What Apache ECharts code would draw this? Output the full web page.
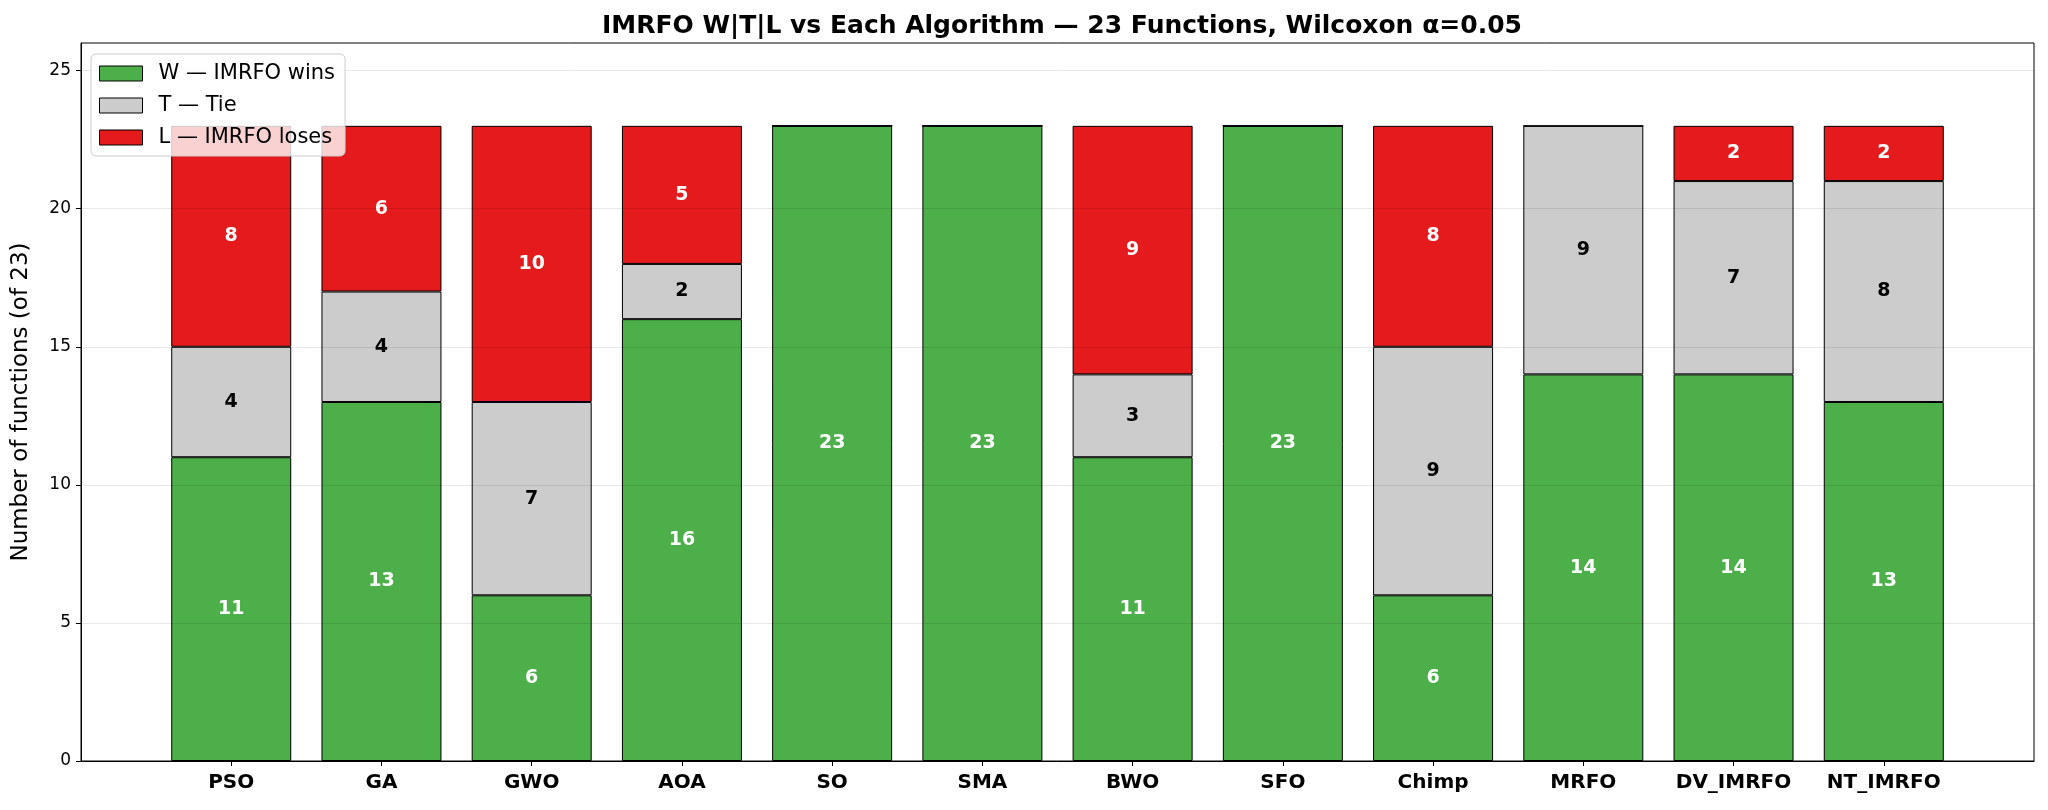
<!DOCTYPE html>
<html>
<head>
    <meta charset="utf-8">
    <title>IMRFO W|T|L</title>
    <script src="https://cdn.jsdelivr.net/npm/echarts@6/dist/echarts.min.js"></script>
    <style>
        html, body { margin: 0; padding: 0; background: #fff; }
    </style>
</head>
<body>
    <div id="main" style="width: 2048px;height:810px;"></div>
    <script type="text/javascript">
        // data
        var categories = ['PSO', 'GA', 'GWO', 'AOA', 'SO', 'SMA', 'BWO', 'SFO', 'Chimp', 'MRFO', 'DV_IMRFO', 'NT_IMRFO'];
        var wins   = [11, 13, 6, 16, 23, 23, 11, 23, 6, 14, 14, 13];
        var ties   = [4, 4, 7, 2, 0, 0, 3, 0, 9, 9, 7, 8];
        var losses = [8, 6, 10, 5, 0, 0, 9, 0, 8, 0, 2, 2];
        var yTicks = [0, 5, 10, 15, 20, 25];

        // pad one empty slot each side, like matplotlib's margins
        function pad(arr, v) { return [v].concat(arr, [v]); }
        var xCats = pad(categories, '');
        var last = xCats.length - 1;

        var font = 'DejaVu Sans';
        var myChart = echarts.init(document.getElementById('main'));

        function seg(name, values, color, textColor) {
            return {
                name: name,
                type: 'bar',
                stack: 'wtl',
                barWidth: 120,
                data: pad(values, '-'),
                itemStyle: { color: color, borderColor: '#000', borderWidth: 1 },
                label: {
                    show: true,
                    position: 'inside',
                    color: textColor,
                    fontFamily: font,
                    fontWeight: 'bold',
                    fontSize: 19,
                    formatter: function (p) { return p.value > 0 ? p.value : ''; }
                }
            };
        }

        var option = {
            animation: false,
            backgroundColor: '#fff',
            title: {
                text: 'IMRFO W|T|L vs Each Algorithm \u2014 23 Functions, Wilcoxon \u03b1=0.05',
                left: 1057,
                textAlign: 'center',
                top: 9,
                textStyle: { fontFamily: font, fontWeight: 'bold', fontSize: 25, color: '#000' }
            },
            legend: {
                orient: 'vertical',
                left: 91,
                top: 54,
                padding: [9, 10, 8, 8],
                itemGap: 11,
                itemWidth: 43,
                itemHeight: 15,
                backgroundColor: 'rgba(255,255,255,0.8)',
                borderColor: '#cccccc',
                borderWidth: 1,
                borderRadius: 5,
                icon: 'rect',
                itemStyle: { borderColor: '#000', borderWidth: 1 },
                textStyle: { fontFamily: font, fontSize: 21, color: '#000', padding: [0, 0, 0, 11] },
                z: 20
            },
            grid: {
                left: 81, right: 14, top: 43, bottom: 49,
                show: true, borderColor: '#000', borderWidth: 1
            },
            xAxis: {
                type: 'category',
                data: xCats,
                boundaryGap: false,
                axisLine: { lineStyle: { color: '#000', width: 1 } },
                axisTick: {
                    length: 5,
                    lineStyle: { color: '#000' },
                    interval: function (i) { return i > 0 && i < last; }
                },
                axisLabel: {
                    interval: 0,
                    margin: 12,
                    color: '#000',
                    fontFamily: font,
                    fontWeight: 'bold',
                    fontSize: 20
                },
                splitLine: { show: false }
            },
            yAxis: {
                type: 'value',
                min: 0,
                max: 26,
                interval: 5,
                z: 10,
                name: 'Number of functions (of 23)',
                nameLocation: 'middle',
                nameGap: 48,
                nameTextStyle: { fontFamily: font, fontSize: 23, color: '#000' },
                axisLine: { show: true, lineStyle: { color: '#000', width: 1 } },
                axisTick: { show: true, length: 5, lineStyle: { color: '#000' }, customValues: yTicks },
                axisLabel: { margin: 10, color: '#000', fontFamily: font, fontSize: 17, customValues: yTicks },
                splitLine: { show: true, lineStyle: { color: 'rgba(0,0,0,0.09)', width: 1 } }
            },
            series: [
                seg('W \u2014 IMRFO wins', wins, '#4daf4a', '#fff'),
                seg('T \u2014 Tie', ties, '#cccccc', '#000'),
                seg('L \u2014 IMRFO loses', losses, '#e41a1c', '#fff')
            ]
        };

        myChart.setOption(option);
    </script>
</body>
</html>
